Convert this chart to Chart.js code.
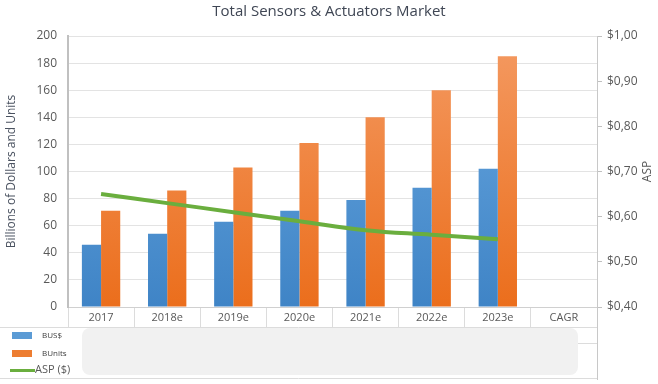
<!DOCTYPE html>
<html>
<head>
<meta charset="utf-8">
<script src="https://cdn.jsdelivr.net/npm/chart.js@4"></script>
<style>
  html, body { margin: 0; padding: 0; background: #fff; }
  #wrap { width: 658px; height: 384px; position: relative; }
</style>
</head>
<body>
<div id="wrap"><canvas id="chart"></canvas></div>
<script>
// Datos
const categorias = ['2017', '2018e', '2019e', '2020e', '2021e', '2022e', '2023e', 'CAGR'];
const dolares = [46, 54, 63, 71, 79, 88, 102, null];     // BUS$
const unidades = [71, 86, 103, 121, 140, 160, 185, null]; // BUnits
const asp = [0.65, 0.63, 0.61, 0.59, 0.57, 0.56, 0.55, null]; // ASP ($)
const ticksIzq = [0, 20, 40, 60, 80, 100, 120, 140, 160, 180, 200];
const ticksDer = [0.4, 0.5, 0.6, 0.7, 0.8, 0.9, 1.0];

const FONT = "'Open Sans', 'Noto Sans', sans-serif";
const GRIS = '#595959';

function degradado(ctx, arriba, abajo) {
    const ca = ctx.chart.chartArea;
    if (!ca) return abajo;
    const g = ctx.chart.ctx.createLinearGradient(0, ca.top, 0, ca.bottom);
    g.addColorStop(0, arriba);
    g.addColorStop(1, abajo);
    return g;
}

// ── Plugin: título, título ASP, tabla inferior y leyenda ────────────────────
const tablaLeyenda = {
    id: 'tablaLeyenda',
    afterDraw(chart) {
        const c = chart.ctx;
        const ca = chart.chartArea;
        c.save();

        // título
        c.fillStyle = '#3f4654';
        c.font = '15px ' + FONT;
        c.textAlign = 'center';
        c.textBaseline = 'middle';
        c.fillText('Total Sensors & Actuators Market', 329, 12);

        // título del eje derecho (girado como el izquierdo)
        c.save();
        c.translate(648, (ca.top + ca.bottom) / 2);
        c.rotate(-Math.PI / 2);
        c.fillStyle = GRIS;
        c.font = '12px ' + FONT;
        c.fillText('ASP', 0, 0);
        c.restore();

        // líneas de la tabla
        c.strokeStyle = '#dcdcdc';
        c.lineWidth = 1;
        c.beginPath();
        c.moveTo(0, 327.5); c.lineTo(ca.right, 327.5);
        c.moveTo(0, 378.5); c.lineTo(ca.right, 378.5);
        c.moveTo(578, 343.5); c.lineTo(ca.right, 343.5);
        c.stroke();
        c.strokeStyle = '#c8c8c8';
        c.beginPath();
        c.moveTo(ca.right + 0.5, ca.bottom); c.lineTo(ca.right + 0.5, 380);
        c.stroke();

        // caja gris
        c.fillStyle = '#f1f1f1';
        c.beginPath();
        c.roundRect(82, 328, 496, 47, 8);
        c.fill();

        // leyenda
        const ds = chart.data.datasets;
        c.textAlign = 'left';
        c.fillStyle = '#5b9bd5';
        c.fillRect(12, 332, 20, 7);
        c.fillStyle = '#ed7d31';
        c.fillRect(12, 350, 20, 7);
        c.strokeStyle = '#6aae3e';
        c.lineWidth = 3;
        c.beginPath(); c.moveTo(10, 370.5); c.lineTo(35, 370.5); c.stroke();

        c.fillStyle = '#404040';
        c.font = '8px ' + FONT;
        c.fillText(ds[0].label, 42, 336);
        c.fillText(ds[1].label, 42, 354);
        c.font = '11px ' + FONT;
        c.fillStyle = GRIS;
        c.fillText(ds[2].label, 35, 370);
        c.restore();
    }
};

const ctx = document.getElementById('chart').getContext('2d');
new Chart(ctx, {
    type: 'bar',
    data: {
        labels: categorias,
        datasets: [
            {
                label: 'BUS$',
                data: dolares,
                backgroundColor: c => degradado(c, '#6aa8e0', '#3f84c6'),
                categoryPercentage: 0.58,
                barPercentage: 1.0,
                order: 1
            },
            {
                label: 'BUnits',
                data: unidades,
                backgroundColor: c => degradado(c, '#f49a62', '#eb6e1c'),
                categoryPercentage: 0.58,
                barPercentage: 1.0,
                order: 1
            },
            {
                type: 'line',
                label: 'ASP ($)',
                data: asp,
                yAxisID: 'y1',
                borderColor: '#6aae3e',
                borderWidth: 4,
                tension: 0.4,
                pointRadius: 0,
                fill: false,
                order: 0
            }
        ]
    },
    options: {
        responsive: true,
        maintainAspectRatio: false,
        animation: false,
        layout: { padding: { top: 36, bottom: 57, left: 0, right: 0 } },
        plugins: {
            legend: { display: false },
            title: { display: false },
            tooltip: { enabled: false }
        },
        scales: {
            x: {
                offset: true,
                afterFit: s => { s.height = 20; },
                grid: {
                    drawOnChartArea: false,
                    offset: true,
                    tickLength: 20,
                    color: '#dcdcdc'
                },
                border: { color: '#d0d0d0' },
                ticks: {
                    padding: -16,
                    color: GRIS,
                    font: { family: FONT, size: 11 }
                }
            },
            y: {
                min: 0,
                max: 200,
                afterFit: s => { s.width = 68; },
                afterBuildTicks: s => { s.ticks = ticksIzq.map(v => ({ value: v })); },
                grid: { color: '#e3e3e3', drawTicks: false },
                border: { color: '#c0c0c0', width: 2 },
                ticks: {
                    padding: 11,
                    color: GRIS,
                    font: { family: FONT, size: 12 }
                },
                title: {
                    display: true,
                    text: 'Billions of Dollars and Units',
                    color: '#4a5260',
                    font: { family: FONT, size: 12 }
                }
            },
            y1: {
                position: 'right',
                min: 0.4,
                max: 1.0,
                afterFit: s => { s.width = 61; },
                afterBuildTicks: s => { s.ticks = ticksDer.map(v => ({ value: v })); },
                grid: { drawOnChartArea: false, tickLength: 5, color: '#c0c0c0' },
                border: { color: '#c8c8c8', width: 1 },
                ticks: {
                    padding: 5,
                    color: GRIS,
                    font: { family: FONT, size: 12 },
                    callback: v => '$' + v.toFixed(2).replace('.', ',')
                }
            }
        }
    },
    plugins: [tablaLeyenda]
});
</script>
</body>
</html>
